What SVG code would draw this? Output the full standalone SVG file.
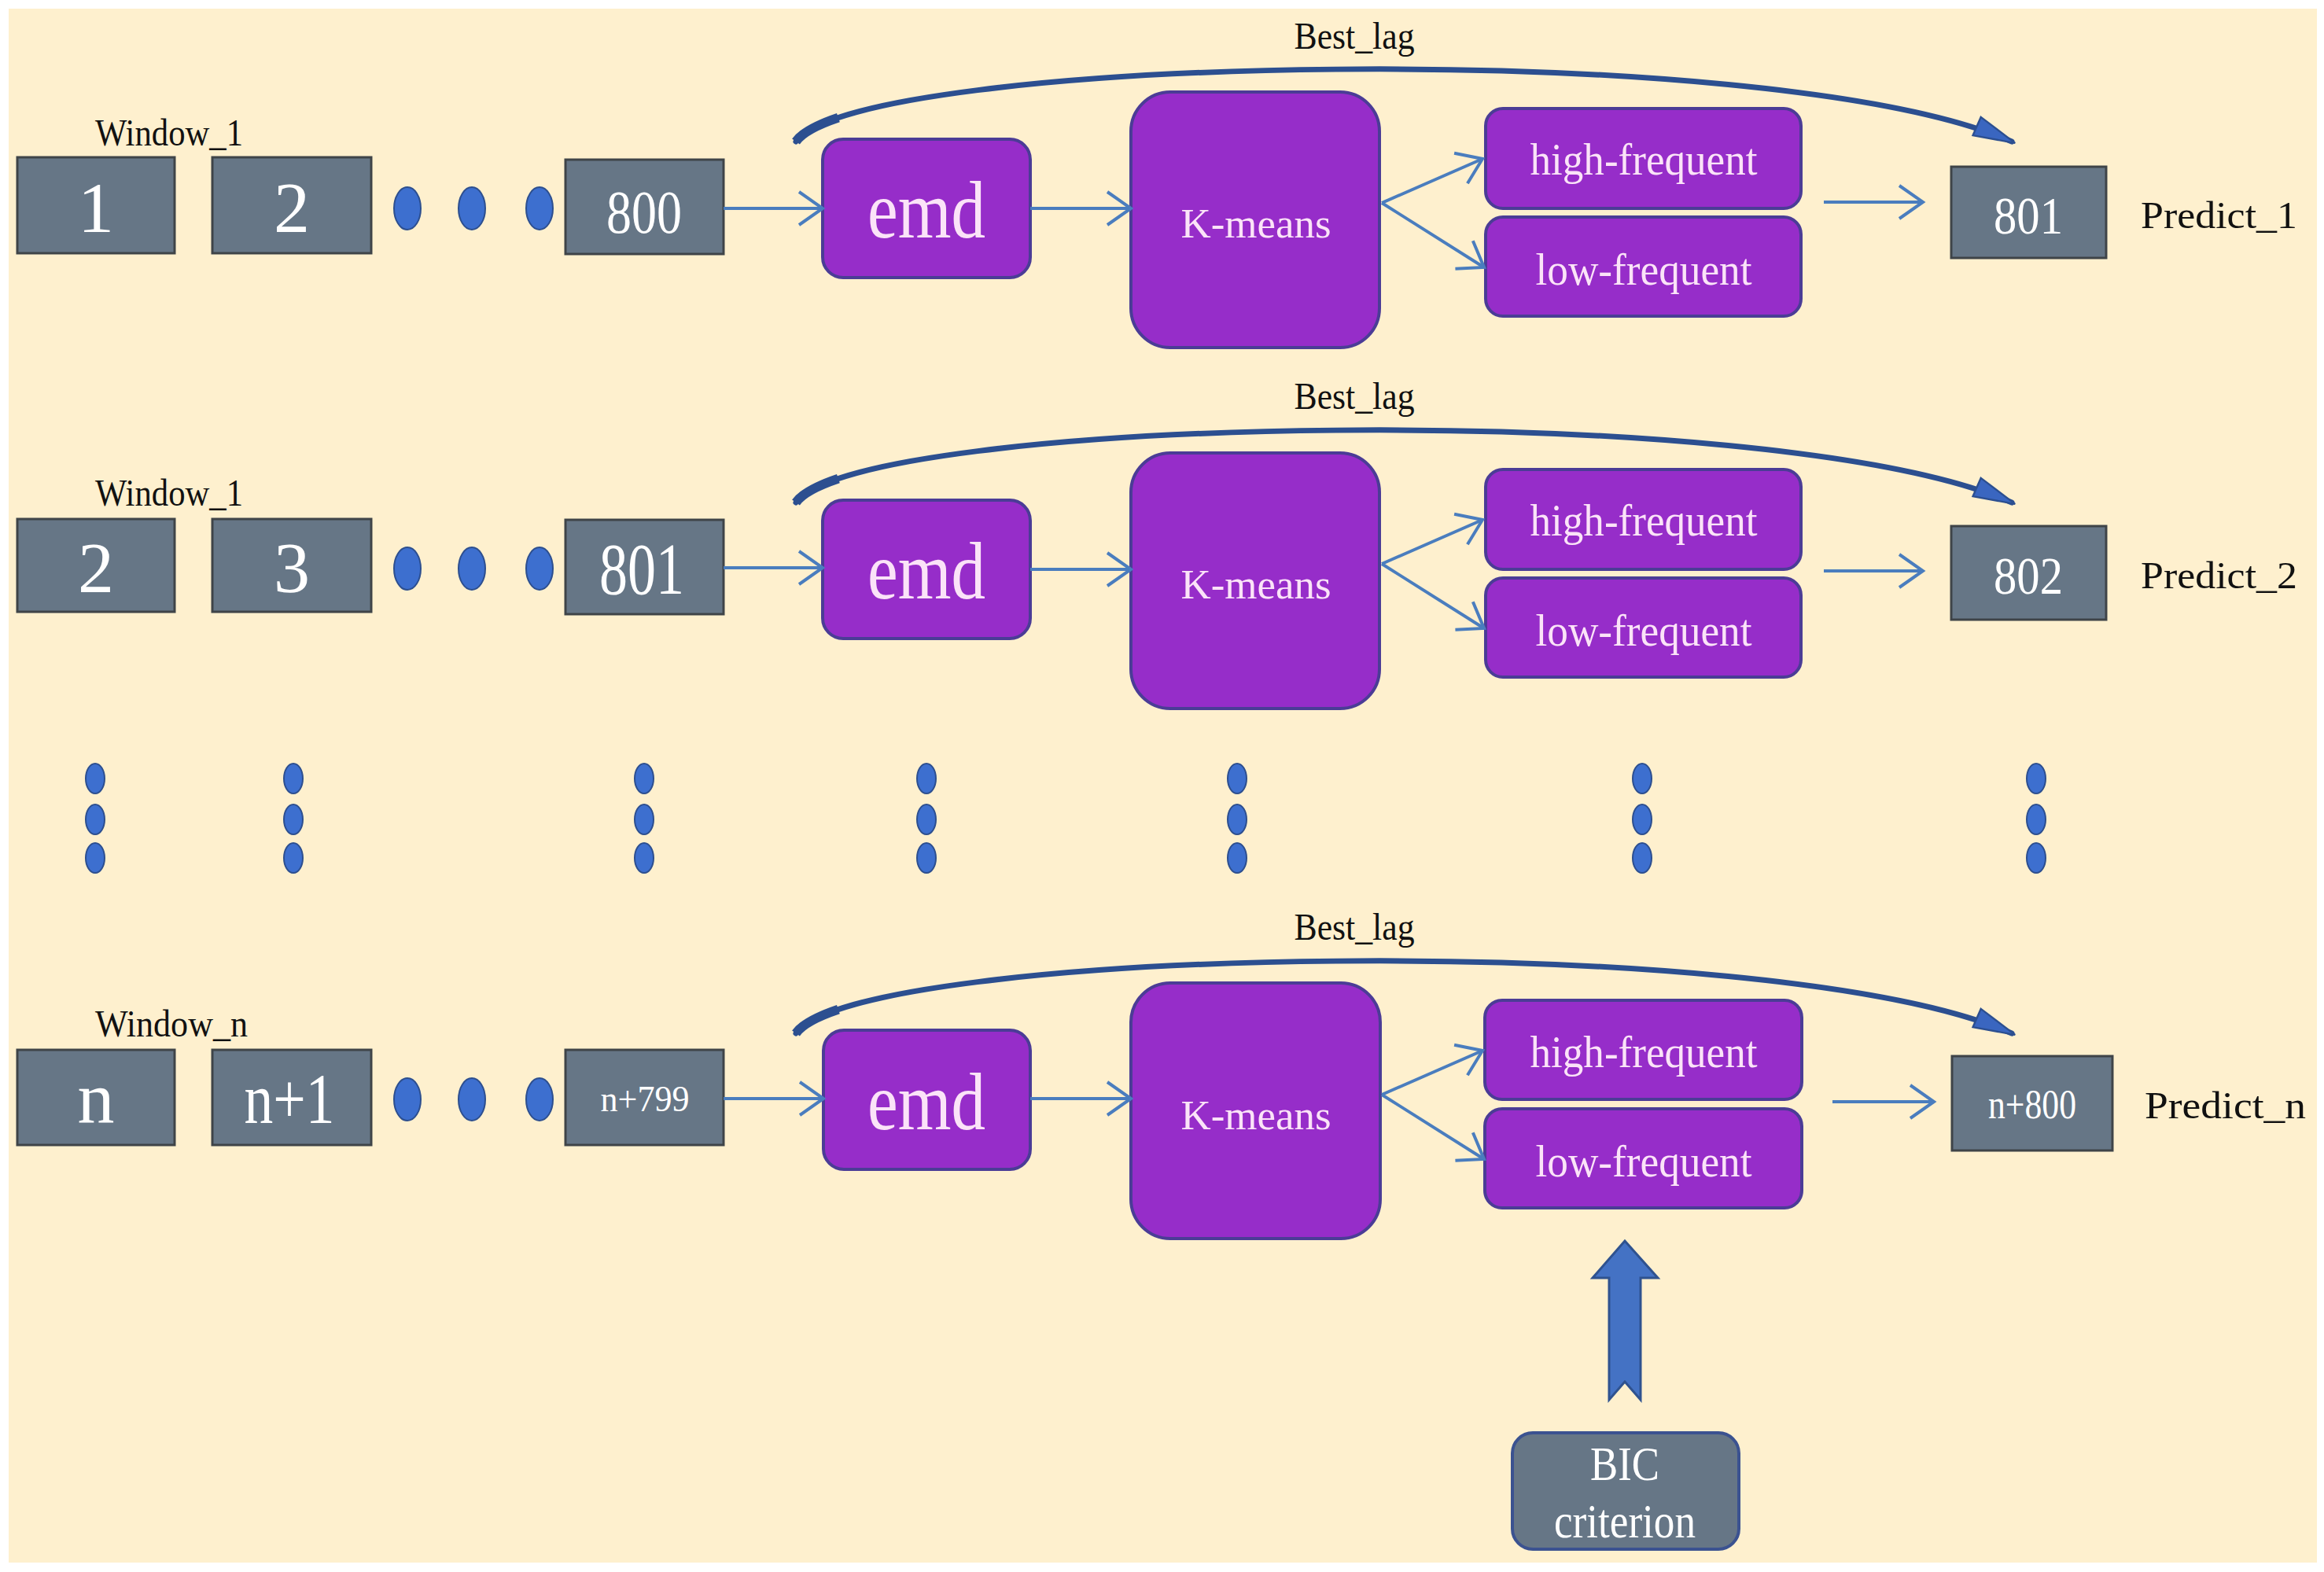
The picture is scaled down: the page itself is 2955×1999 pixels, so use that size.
<svg xmlns="http://www.w3.org/2000/svg" width="2955" height="1999" viewBox="0 0 2955 1999">
<style>
text{font-family:"Liberation Serif","Times New Roman",serif}
.gray{fill:#667686;stroke:#3f4448;stroke-width:3}
.purp{fill:#962DC9;stroke:#4B3C96;stroke-width:4}
.wt{fill:#ffffff;text-anchor:middle}
.pt{fill:#FBE3F8;text-anchor:middle}
.lbl{fill:#111111;font-size:49px}
.dot{fill:#3D6FCF;stroke:#2D4F8F;stroke-width:2}
.conn{stroke:#4A7DBE;stroke-width:4;fill:none;marker-end:url(#chev)}
.lag{stroke:#2C4F90;stroke-width:7;fill:none;stroke-linecap:round;marker-end:url(#tri)}
.tail{stroke:#2C4F90;stroke-width:12;fill:none;stroke-linecap:butt}
</style>
<defs>
<marker id="chev" markerUnits="userSpaceOnUse" markerWidth="40" markerHeight="50" viewBox="-34 -25 38 50" refX="0" refY="0" orient="auto">
<path d="M-30,-21 L0,0 L-30,21" fill="none" stroke="#4A7DBE" stroke-width="4"/>
</marker>
<marker id="tri" markerUnits="userSpaceOnUse" markerWidth="60" markerHeight="36" viewBox="-46 -14 52 28" refX="0" refY="0" orient="auto">
<path d="M-42,-11 L4,0 L-42,11 Z" fill="#3A66C0" stroke="#2C4F90" stroke-width="2"/>
</marker>
</defs>
<rect x="0" y="0" width="2955" height="1999" fill="#ffffff"/>
<rect x="11" y="11" width="2935" height="1976" fill="#FEF0CE"/>

<!-- Row 1 -->
<g id="window1-label"><text class="lbl" x="121" y="185" textLength="188" lengthAdjust="spacingAndGlyphs">Window_1</text></g>
<g id="r1-box1"><rect class="gray" x="22" y="200" width="200" height="122"/><text class="wt" x="122" y="295" font-size="92">1</text></g>
<g id="r1-box2"><rect class="gray" x="270" y="200" width="202" height="122"/><text class="wt" x="371" y="295" font-size="92">2</text></g>
<g id="r1-dots"><ellipse class="dot" cx="518" cy="265" rx="17" ry="27"/><ellipse class="dot" cx="600" cy="265" rx="17" ry="27"/><ellipse class="dot" cx="686" cy="265" rx="17" ry="27"/></g>
<g id="r1-box800"><rect class="gray" x="719" y="203" width="201" height="120"/><text class="wt" x="819" y="296" font-size="78" textLength="96" lengthAdjust="spacingAndGlyphs">800</text></g>
<g id="r1-emd"><rect class="purp" x="1046" y="177" width="264" height="176" rx="26"/><text class="pt" x="1178" y="302" font-size="104" textLength="150" lengthAdjust="spacingAndGlyphs">emd</text></g>
<g id="r1-kmeans"><rect class="purp" x="1438" y="117" width="316" height="325" rx="50"/><text class="pt" x="1597" y="302" font-size="52" textLength="191" lengthAdjust="spacingAndGlyphs">K-means</text></g>
<g id="r1-high"><rect class="purp" x="1889" y="138" width="401" height="127" rx="22"/><text class="pt" x="2090" y="222" font-size="56" textLength="289" lengthAdjust="spacingAndGlyphs">high-frequent</text></g>
<g id="r1-low"><rect class="purp" x="1889" y="276" width="401" height="126" rx="22"/><text class="pt" x="2090" y="362" font-size="56" textLength="275" lengthAdjust="spacingAndGlyphs">low-frequent</text></g>
<g id="r1-out"><rect class="gray" x="2481" y="212" width="197" height="116"/><text class="wt" x="2579" y="297" font-size="68" textLength="88" lengthAdjust="spacingAndGlyphs">801</text></g>
<g id="r1-predict"><text class="lbl" x="2722" y="290" font-size="58" textLength="199" lengthAdjust="spacingAndGlyphs">Predict_1</text></g>
<g id="r1-bestlag"><text class="lbl" x="1722" y="62" text-anchor="middle" textLength="153" lengthAdjust="spacingAndGlyphs">Best_lag</text></g>

<!-- Row 2 -->
<g id="window2-label"><text class="lbl" x="121" y="643" textLength="188" lengthAdjust="spacingAndGlyphs">Window_1</text></g>
<g id="r2-box1"><rect class="gray" x="22" y="660" width="200" height="118"/><text class="wt" x="122" y="753" font-size="92">2</text></g>
<g id="r2-box2"><rect class="gray" x="270" y="660" width="202" height="118"/><text class="wt" x="371" y="753" font-size="92">3</text></g>
<g id="r2-dots"><ellipse class="dot" cx="518" cy="723" rx="17" ry="27"/><ellipse class="dot" cx="600" cy="723" rx="17" ry="27"/><ellipse class="dot" cx="686" cy="723" rx="17" ry="27"/></g>
<g id="r2-box801"><rect class="gray" x="719" y="661" width="201" height="120"/><text class="wt" x="816" y="755" font-size="94" textLength="108" lengthAdjust="spacingAndGlyphs">801</text></g>
<g id="r2-emd"><rect class="purp" x="1046" y="636" width="264" height="176" rx="26"/><text class="pt" x="1178" y="761" font-size="104" textLength="150" lengthAdjust="spacingAndGlyphs">emd</text></g>
<g id="r2-kmeans"><rect class="purp" x="1438" y="576" width="316" height="325" rx="50"/><text class="pt" x="1597" y="761" font-size="52" textLength="191" lengthAdjust="spacingAndGlyphs">K-means</text></g>
<g id="r2-high"><rect class="purp" x="1889" y="597" width="401" height="127" rx="22"/><text class="pt" x="2090" y="681" font-size="56" textLength="289" lengthAdjust="spacingAndGlyphs">high-frequent</text></g>
<g id="r2-low"><rect class="purp" x="1889" y="735" width="401" height="126" rx="22"/><text class="pt" x="2090" y="821" font-size="56" textLength="275" lengthAdjust="spacingAndGlyphs">low-frequent</text></g>
<g id="r2-out"><rect class="gray" x="2481" y="669" width="197" height="119"/><text class="wt" x="2579" y="755" font-size="68" textLength="88" lengthAdjust="spacingAndGlyphs">802</text></g>
<g id="r2-predict"><text class="lbl" x="2722" y="748" font-size="58" textLength="199" lengthAdjust="spacingAndGlyphs">Predict_2</text></g>
<g id="r2-bestlag"><text class="lbl" x="1722" y="520" text-anchor="middle" textLength="153" lengthAdjust="spacingAndGlyphs">Best_lag</text></g>

<!-- Vertical ellipsis -->
<g id="vdots">
<ellipse class="dot" cx="121" cy="990" rx="12" ry="19"/><ellipse class="dot" cx="121" cy="1042" rx="12" ry="19"/><ellipse class="dot" cx="121" cy="1091" rx="12" ry="19"/>
<ellipse class="dot" cx="373" cy="990" rx="12" ry="19"/><ellipse class="dot" cx="373" cy="1042" rx="12" ry="19"/><ellipse class="dot" cx="373" cy="1091" rx="12" ry="19"/>
<ellipse class="dot" cx="819" cy="990" rx="12" ry="19"/><ellipse class="dot" cx="819" cy="1042" rx="12" ry="19"/><ellipse class="dot" cx="819" cy="1091" rx="12" ry="19"/>
<ellipse class="dot" cx="1178" cy="990" rx="12" ry="19"/><ellipse class="dot" cx="1178" cy="1042" rx="12" ry="19"/><ellipse class="dot" cx="1178" cy="1091" rx="12" ry="19"/>
<ellipse class="dot" cx="1573" cy="990" rx="12" ry="19"/><ellipse class="dot" cx="1573" cy="1042" rx="12" ry="19"/><ellipse class="dot" cx="1573" cy="1091" rx="12" ry="19"/>
<ellipse class="dot" cx="2088" cy="990" rx="12" ry="19"/><ellipse class="dot" cx="2088" cy="1042" rx="12" ry="19"/><ellipse class="dot" cx="2088" cy="1091" rx="12" ry="19"/>
<ellipse class="dot" cx="2589" cy="990" rx="12" ry="19"/><ellipse class="dot" cx="2589" cy="1042" rx="12" ry="19"/><ellipse class="dot" cx="2589" cy="1091" rx="12" ry="19"/>
</g>

<!-- Row 3 -->
<g id="window3-label"><text class="lbl" x="121" y="1318" textLength="194" lengthAdjust="spacingAndGlyphs">Window_n</text></g>
<g id="r3-box1"><rect class="gray" x="22" y="1335" width="200" height="121"/><text class="wt" x="122" y="1428" font-size="94">n</text></g>
<g id="r3-box2"><rect class="gray" x="270" y="1335" width="202" height="121"/><text class="wt" x="368" y="1428" font-size="90" textLength="115" lengthAdjust="spacingAndGlyphs">n+1</text></g>
<g id="r3-dots"><ellipse class="dot" cx="518" cy="1398" rx="17" ry="27"/><ellipse class="dot" cx="600" cy="1398" rx="17" ry="27"/><ellipse class="dot" cx="686" cy="1398" rx="17" ry="27"/></g>
<g id="r3-box799"><rect class="gray" x="719" y="1335" width="201" height="121"/><text class="wt" x="820" y="1413" font-size="46" textLength="113" lengthAdjust="spacingAndGlyphs">n+799</text></g>
<g id="r3-emd"><rect class="purp" x="1047" y="1310" width="263" height="177" rx="26"/><text class="pt" x="1178" y="1436" font-size="104" textLength="150" lengthAdjust="spacingAndGlyphs">emd</text></g>
<g id="r3-kmeans"><rect class="purp" x="1438" y="1250" width="317" height="325" rx="50"/><text class="pt" x="1597" y="1436" font-size="52" textLength="191" lengthAdjust="spacingAndGlyphs">K-means</text></g>
<g id="r3-high"><rect class="purp" x="1888" y="1272" width="403" height="126" rx="22"/><text class="pt" x="2090" y="1357" font-size="56" textLength="289" lengthAdjust="spacingAndGlyphs">high-frequent</text></g>
<g id="r3-low"><rect class="purp" x="1888" y="1410" width="403" height="126" rx="22"/><text class="pt" x="2090" y="1496" font-size="56" textLength="275" lengthAdjust="spacingAndGlyphs">low-frequent</text></g>
<g id="r3-out"><rect class="gray" x="2482" y="1343" width="204" height="120"/><text class="wt" x="2584" y="1422" font-size="52" textLength="112" lengthAdjust="spacingAndGlyphs">n+800</text></g>
<g id="r3-predict"><text class="lbl" x="2727" y="1422" font-size="58" textLength="205" lengthAdjust="spacingAndGlyphs">Predict_n</text></g>
<g id="r3-bestlag"><text class="lbl" x="1722" y="1195" text-anchor="middle" textLength="153" lengthAdjust="spacingAndGlyphs">Best_lag</text></g>

<!-- BIC -->
<g id="bic"><rect x="1923" y="1822" width="288" height="148" rx="26" fill="#667686" stroke="#3B5290" stroke-width="4"/>
<text class="wt" x="2066" y="1882" font-size="62" textLength="88" lengthAdjust="spacingAndGlyphs">BIC</text>
<text class="wt" x="2066" y="1955" font-size="62" textLength="180" lengthAdjust="spacingAndGlyphs">criterion</text></g>

<g id="connectors">
<path class="conn" d="M920,265 L1046,265"/>
<path class="conn" d="M1310,265 L1438,265"/>
<path class="conn" d="M1757,258 L1885,202"/>
<path class="conn" d="M1757,258 L1887,340"/>
<path class="conn" d="M2319,257 L2445,257"/>
<path class="lag" d="M1012,180 C1090,70 2250,45 2558,180"/>
<path class="tail" d="M1012,180 C1019.8,169 1038.4,158.9 1065.9,149.6"/>

<path class="conn" d="M920,722 L1046,722"/>
<path class="conn" d="M1310,724 L1438,724"/>
<path class="conn" d="M1757,717 L1885,661"/>
<path class="conn" d="M1757,717 L1887,799"/>
<path class="conn" d="M2319,726 L2445,726"/>
<path class="lag" d="M1012,639 C1090,529 2250,504 2558,639"/>
<path class="tail" d="M1012,639 C1019.8,628 1038.4,617.9 1065.9,608.6"/>

<path class="conn" d="M920,1397 L1047,1397"/>
<path class="conn" d="M1310,1397 L1438,1397"/>
<path class="conn" d="M1757,1392 L1885,1336"/>
<path class="conn" d="M1757,1392 L1887,1474"/>
<path class="conn" d="M2330,1401 L2459,1401"/>
<path class="lag" d="M1012,1314 C1090,1204 2250,1179 2558,1314"/>
<path class="tail" d="M1012,1314 C1019.8,1303 1038.4,1292.9 1065.9,1283.6"/>

<path d="M2066,1578 L2108,1625 L2086,1625 L2086,1780 L2066,1757 L2046,1780 L2046,1625 L2025,1625 Z" fill="#4472C4" stroke="#2F528F" stroke-width="3"/>
</g>
</svg>
